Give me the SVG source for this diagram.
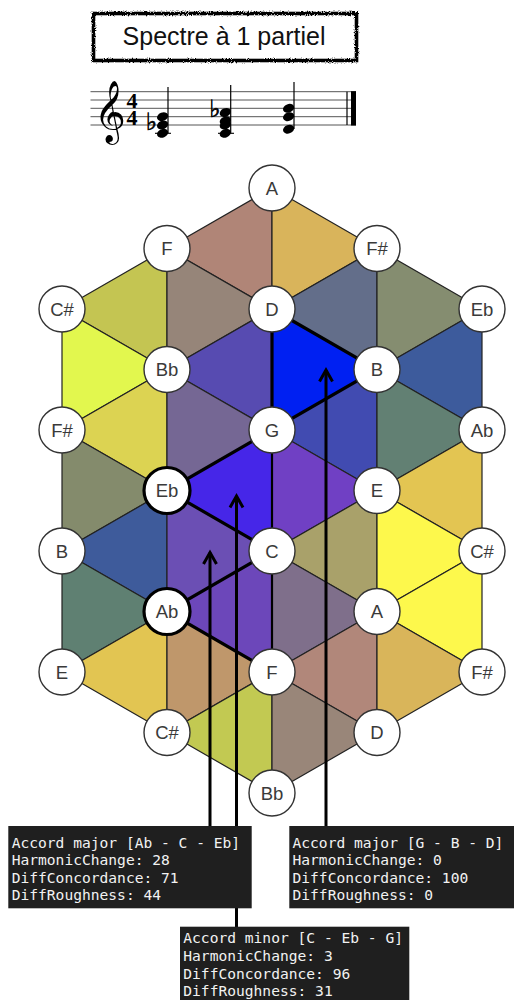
<svg xmlns="http://www.w3.org/2000/svg" width="514" height="1000" viewBox="0 0 514 1000">
<defs>
<style>
.tri{stroke:#222;stroke-width:1.2;stroke-linejoin:round}
.bold{stroke:#000;stroke-width:3.2;stroke-linecap:round;fill:none}
.med{stroke:#000;stroke-width:2.2;fill:none}
.node circle{fill:#fff;stroke:#333;stroke-width:1.4}
.node.sel circle{stroke:#000;stroke-width:3.2}
.node text{font-family:"Liberation Sans",Arial,sans-serif;font-size:18.5px;fill:#3a3a3a;text-anchor:middle}
.conn line,.conn polyline{stroke:#000;stroke-width:3;fill:none}
.tip rect{fill:#1f1f1f}
.tip text{font-family:"DejaVu Sans Mono","Liberation Mono",monospace;font-size:14.6px;fill:#f2f2f2}
.staff line{stroke:#555;stroke-width:1}
.nh{fill:#000}
.flat{font-family:"DejaVu Sans",sans-serif;font-weight:bold;font-size:24px;fill:#000;stroke:#000;stroke-width:0.6;text-anchor:middle}
</style>
<filter id="rough" x="-5%" y="-30%" width="110%" height="160%">
<feTurbulence type="fractalNoise" baseFrequency="0.95" numOctaves="2" seed="4"/>
<feDisplacementMap in="SourceGraphic" scale="3.6" xChannelSelector="R" yChannelSelector="G"/>
</filter>
</defs>
<rect width="514" height="1000" fill="#fff"/>

<g id="title">
<rect x="93.5" y="13.5" width="263" height="47" fill="none" stroke="#000" stroke-width="3.6" filter="url(#rough)"/>
<text x="224" y="45" font-family="Liberation Sans,Arial,sans-serif" font-size="25" text-anchor="middle" fill="#111">Spectre à 1 partiel</text>
</g>

<g id="score">
<g class="staff">
<line x1="90.5" y1="91.7" x2="356" y2="91.7"/>
<line x1="90.5" y1="100" x2="356" y2="100"/>
<line x1="90.5" y1="108.3" x2="356" y2="108.3"/>
<line x1="90.5" y1="116.7" x2="356" y2="116.7"/>
<line x1="90.5" y1="125" x2="356" y2="125"/>
</g>
<text x="94" y="129" font-family="DejaVu Sans,Noto Sans,sans-serif" font-size="54" fill="#000">𝄞</text>
<text font-family="Liberation Serif,serif" font-weight="bold" font-size="22" text-anchor="middle" fill="#000"><tspan x="132" y="107.8">4</tspan><tspan x="132" y="124.6">4</tspan></text>
<line x1="347" y1="91.7" x2="347" y2="125" stroke="#000" stroke-width="1.2"/>
<rect x="351" y="91.2" width="5" height="34.3" fill="#000"/>
<!-- chord 1 -->
<text class="flat" x="151.5" y="130">♭</text>
<line x1="155" y1="133.3" x2="171" y2="133.3" stroke="#000" stroke-width="1.1"/>
<ellipse class="nh" cx="162.6" cy="116.7" rx="5.8" ry="4.2" transform="rotate(-22 162.6 116.7)"/>
<ellipse class="nh" cx="162.6" cy="125" rx="5.8" ry="4.2" transform="rotate(-22 162.6 125)"/>
<ellipse class="nh" cx="162.6" cy="133.3" rx="5.8" ry="4.2" transform="rotate(-22 162.6 133.3)"/>
<line x1="168" y1="133" x2="168" y2="87" stroke="#000" stroke-width="1.2"/>
<!-- chord 2 -->
<text class="flat" x="215" y="117">♭</text>
<line x1="218" y1="133.3" x2="234" y2="133.3" stroke="#000" stroke-width="1.1"/>
<ellipse class="nh" cx="225.3" cy="112.5" rx="5.8" ry="4.2" transform="rotate(-22 225.3 112.5)"/>
<ellipse class="nh" cx="225.3" cy="120.8" rx="5.8" ry="4.2" transform="rotate(-22 225.3 120.8)"/>
<ellipse class="nh" cx="225.3" cy="125" rx="5.8" ry="4.2" transform="rotate(-22 225.3 125)"/>
<ellipse class="nh" cx="225.3" cy="133.3" rx="5.8" ry="4.2" transform="rotate(-22 225.3 133.3)"/>
<line x1="230.7" y1="133" x2="230.7" y2="85" stroke="#000" stroke-width="1.2"/>
<!-- chord 3 -->
<ellipse class="nh" cx="288.6" cy="108.3" rx="5.8" ry="4.2" transform="rotate(-22 288.6 108.3)"/>
<ellipse class="nh" cx="288.6" cy="116.7" rx="5.8" ry="4.2" transform="rotate(-22 288.6 116.7)"/>
<ellipse class="nh" cx="288.6" cy="129.2" rx="5.8" ry="4.2" transform="rotate(-22 288.6 129.2)"/>
<line x1="294" y1="129" x2="294" y2="82" stroke="#000" stroke-width="1.2"/>
</g>

<g id="lattice">
<polygon class="tri" fill="#c4c552" points="167,248.5 167,369.5 62,309"/>
<polygon class="tri" fill="#e2f74e" points="62,309 62,430 167,369.5"/>
<polygon class="tri" fill="#dcd352" points="167,369.5 167,490.5 62,430"/>
<polygon class="tri" fill="#848b6c" points="62,430 62,551 167,490.5"/>
<polygon class="tri" fill="#3e5b9b" points="167,490.5 167,611.5 62,551"/>
<polygon class="tri" fill="#5f8072" points="62,551 62,672 167,611.5"/>
<polygon class="tri" fill="#e2c552" points="167,611.5 167,732.5 62,672"/>

<polygon class="tri" fill="#b08577" points="272,188 272,309 167,248.5"/>
<polygon class="tri" fill="#968579" points="167,248.5 167,369.5 272,309"/>
<polygon class="tri" fill="#574bb1" points="272,309 272,430 167,369.5"/>
<polygon class="tri" fill="#756794" points="167,369.5 167,490.5 272,430"/>
<polygon class="tri" fill="#4626e8" points="272,430 272,551 167,490.5"/>
<polygon class="tri" fill="#6b4fb4" points="167,490.5 167,611.5 272,551"/>
<polygon class="tri" fill="#6c47ba" points="272,551 272,672 167,611.5"/>
<polygon class="tri" fill="#bf976b" points="167,611.5 167,732.5 272,672"/>
<polygon class="tri" fill="#c2c952" points="272,672 272,793 167,732.5"/>

<polygon class="tri" fill="#d9b45b" points="272,188 272,309 377,248.5"/>
<polygon class="tri" fill="#636e8a" points="377,248.5 377,369.5 272,309"/>
<polygon class="tri" fill="#0020f2" points="272,309 272,430 377,369.5"/>
<polygon class="tri" fill="#414bb1" points="377,369.5 377,490.5 272,430"/>
<polygon class="tri" fill="#7040c4" points="272,430 272,551 377,490.5"/>
<polygon class="tri" fill="#a9a16a" points="377,490.5 377,611.5 272,551"/>
<polygon class="tri" fill="#7f6f8b" points="272,551 272,672 377,611.5"/>
<polygon class="tri" fill="#b1877a" points="377,611.5 377,732.5 272,672"/>
<polygon class="tri" fill="#998679" points="272,672 272,793 377,732.5"/>

<polygon class="tri" fill="#858d70" points="377,248.5 377,369.5 482,309"/>
<polygon class="tri" fill="#3d5b9c" points="482,309 482,430 377,369.5"/>
<polygon class="tri" fill="#628073" points="377,369.5 377,490.5 482,430"/>
<polygon class="tri" fill="#e3c552" points="482,430 482,551 377,490.5"/>
<polygon class="tri" fill="#fdf84c" points="377,490.5 377,611.5 482,551"/>
<polygon class="tri" fill="#fdf84c" points="482,551 482,672 377,611.5"/>
<polygon class="tri" fill="#d9b55a" points="377,611.5 377,732.5 482,672"/>
</g>

<g id="chord-outlines">
<line class="med" x1="272" y1="430" x2="272" y2="551"/>
<line class="med" x1="272" y1="551" x2="272" y2="672"/>
<polyline class="bold" points="272,309 272,430 377,369.5 272,309"/>
<polyline class="bold" points="272,430 167,490.5 272,551 167,611.5 272,672"/>
</g>

<g id="connectors" class="conn">
<line x1="326" y1="370" x2="326" y2="826"/>
<polyline points="319.5,381.5 326,370 332.5,381.5"/>
<line x1="236.5" y1="496" x2="236.5" y2="928"/>
<polyline points="230,507.5 236.5,496 243,507.5"/>
<line x1="210" y1="552.5" x2="210" y2="826"/>
<polyline points="203.5,564 210,552.5 216.5,564"/>
</g>

<g id="node-A1" class="node"><circle cx="272" cy="188" r="23"/><text x="272" y="194.7">A</text></g>
<g id="node-F1" class="node"><circle cx="167" cy="248.5" r="23"/><text x="167" y="255.2">F</text></g>
<g id="node-Fs1" class="node"><circle cx="377" cy="248.5" r="23"/><text x="377" y="255.2">F#</text></g>
<g id="node-Cs1" class="node"><circle cx="62" cy="309" r="23"/><text x="62" y="315.7">C#</text></g>
<g id="node-D1" class="node"><circle cx="272" cy="309" r="23"/><text x="272" y="315.7">D</text></g>
<g id="node-Eb1" class="node"><circle cx="482" cy="309" r="23"/><text x="482" y="315.7">Eb</text></g>
<g id="node-Bb1" class="node"><circle cx="167" cy="369.5" r="23"/><text x="167" y="376.2">Bb</text></g>
<g id="node-B1" class="node"><circle cx="377" cy="369.5" r="23"/><text x="377" y="376.2">B</text></g>
<g id="node-Fs2" class="node"><circle cx="62" cy="430" r="23"/><text x="62" y="436.7">F#</text></g>
<g id="node-G" class="node"><circle cx="272" cy="430" r="23"/><text x="272" y="436.7">G</text></g>
<g id="node-Ab1" class="node"><circle cx="482" cy="430" r="23"/><text x="482" y="436.7">Ab</text></g>
<g id="node-Eb2" class="node sel"><circle cx="167" cy="490.5" r="23"/><text x="167" y="497.2">Eb</text></g>
<g id="node-E1" class="node"><circle cx="377" cy="490.5" r="23"/><text x="377" y="497.2">E</text></g>
<g id="node-B2" class="node"><circle cx="62" cy="551" r="23"/><text x="62" y="557.7">B</text></g>
<g id="node-C" class="node"><circle cx="272" cy="551" r="23"/><text x="272" y="557.7">C</text></g>
<g id="node-Cs2" class="node"><circle cx="482" cy="551" r="23"/><text x="482" y="557.7">C#</text></g>
<g id="node-Ab2" class="node sel"><circle cx="167" cy="611.5" r="23"/><text x="167" y="618.2">Ab</text></g>
<g id="node-A2" class="node"><circle cx="377" cy="611.5" r="23"/><text x="377" y="618.2">A</text></g>
<g id="node-E2" class="node"><circle cx="62" cy="672" r="23"/><text x="62" y="678.7">E</text></g>
<g id="node-F2" class="node"><circle cx="272" cy="672" r="23"/><text x="272" y="678.7">F</text></g>
<g id="node-Fs3" class="node"><circle cx="482" cy="672" r="23"/><text x="482" y="678.7">F#</text></g>
<g id="node-Cs3" class="node"><circle cx="167" cy="732.5" r="23"/><text x="167" y="739.2">C#</text></g>
<g id="node-D2" class="node"><circle cx="377" cy="732.5" r="23"/><text x="377" y="739.2">D</text></g>
<g id="node-Bb2" class="node"><circle cx="272" cy="793" r="23"/><text x="272" y="799.7">Bb</text></g>

<g id="tooltip-AbCEb" class="tip">
<rect x="8.3" y="826" width="243.4" height="82.3"/>
<text x="11.7" y="847.5">Accord major [Ab - C - Eb]</text>
<text x="11.7" y="865.1">HarmonicChange: 28</text>
<text x="11.7" y="882.7">DiffConcordance: 71</text>
<text x="11.7" y="900.3">DiffRoughness: 44</text>
</g>
<g id="tooltip-GBD" class="tip">
<rect x="289.3" y="826" width="224.7" height="82.3"/>
<text x="292.5" y="847.5">Accord major [G - B - D]</text>
<text x="292.5" y="865.1">HarmonicChange: 0</text>
<text x="292.5" y="882.7">DiffConcordance: 100</text>
<text x="292.5" y="900.3">DiffRoughness: 0</text>
</g>
<g id="tooltip-CEbG" class="tip">
<rect x="180" y="926.7" width="229.3" height="73.3"/>
<text x="183.3" y="943.3">Accord minor [C - Eb - G]</text>
<text x="183.3" y="960.9">HarmonicChange: 3</text>
<text x="183.3" y="978.5">DiffConcordance: 96</text>
<text x="183.3" y="996.1">DiffRoughness: 31</text>
</g>
</svg>
